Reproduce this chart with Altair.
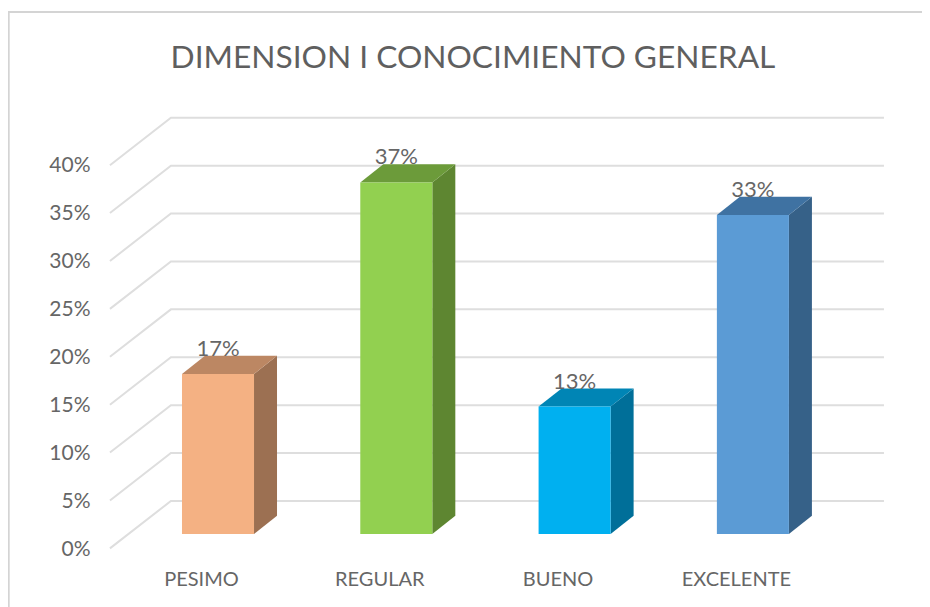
import altair as alt
import pandas as pd

categories = ["PESIMO", "REGULAR", "BUENO", "EXCELENTE"]
values = [16.7, 36.7, 13.3, 33.3]
labels = ["17%", "37%", "13%", "33%"]
front_colors = ["#F4B183", "#92D050", "#00B0F0", "#5B9BD5"]
side_colors = ["#9C7052", "#5E8631", "#006F99", "#366188"]
top_colors = ["#BC8763", "#6C9B3A", "#0085B5", "#3F72A2"]
ticks = [0, 5, 10, 15, 20, 25, 30, 35, 40]
title_text = "DIMENSION I CONOCIMIENTO GENERAL"

FONT = "Lato"
TXT = "#666666"
GRID = "#dedede"

# geometry of the oblique projection, in data units
BW = 0.404
DX = 0.129
DY = 1.9
WALL_DY = 3.45
FLOOR_DY = -1.5
X_LEFT, X_WALL, X_RIGHT = -0.606, -0.264, 3.735

PX_X = 178.3
PX_Y = 9.58
PAD_L, PAD_T, PAD_R, PAD_B = 84, 60, 0, 47
W, H = 830, 492
x_dom = [(8 + PAD_L - 218) / PX_X, (8 + PAD_L + W - 218) / PX_X]
y_dom = [(534 - (8 + PAD_T + H)) / PX_Y, (534 - (8 + PAD_T)) / PX_Y]
x_s = alt.Scale(domain=x_dom, nice=False, zero=False)
y_s = alt.Scale(domain=y_dom, nice=False, zero=False)

wall = pd.DataFrame(
    [{"t": t, "o": 0, "x": X_LEFT, "y": t + FLOOR_DY} for t in ticks]
    + [{"t": t, "o": 1, "x": X_WALL, "y": t + WALL_DY} for t in ticks]
    + [{"t": t, "o": 2, "x": X_RIGHT, "y": t + WALL_DY} for t in ticks]
)

front_rows, side_rows, top_rows = [], [], []
for i, (c, v) in enumerate(zip(categories, values)):
    l, r = i - BW / 2, i + BW / 2
    front_rows.append({"c": c, "x": l, "x2": r, "y": 0, "y2": v, "label": labels[i], "mid": i})
    side_rows += [
        {"c": c, "x": r, "y": 0, "y2": v},
        {"c": c, "x": r + DX, "y": DY, "y2": v + DY},
    ]
    top_rows += [
        {"c": c, "x": l, "y": v, "y2": v},
        {"c": c, "x": l + DX, "y": v, "y2": v + DY},
        {"c": c, "x": r, "y": v, "y2": v + DY},
        {"c": c, "x": r + DX, "y": v + DY, "y2": v + DY},
    ]
front = pd.DataFrame(front_rows)
side = pd.DataFrame(side_rows)
top = pd.DataFrame(top_rows)


def col(rng):
    return alt.Color("c:N", scale=alt.Scale(domain=categories, range=rng), legend=None)


x_axis = alt.Axis(
    values=[0, 1, 2, 3],
    labelExpr="['PESIMO','REGULAR','BUENO','EXCELENTE'][datum.value]",
    title=None, domain=False, ticks=False, grid=False,
    labelFont=FONT, labelFontSize=20, labelColor=TXT, labelOffset=-17,
    labelPadding=19, labelBaseline="middle", labelFlush=False, labelOverlap=False,
)
y_axis = alt.Axis(
    values=ticks, format="d", labelExpr="datum.value + '%'",
    title=None, domain=False, ticks=False, grid=False,
    labelFont=FONT, labelFontSize=21, labelColor=TXT, labelOffset=15,
    labelPadding=2, labelOverlap=False,
)

grid = alt.Chart(wall).mark_line(color=GRID, strokeWidth=2).encode(
    x=alt.X("x:Q", scale=x_s, axis=x_axis),
    y=alt.Y("y:Q", scale=y_s, axis=y_axis),
    detail="t:N",
    order="o:Q",
)
side_m = alt.Chart(side).mark_area(opacity=1).encode(
    x=alt.X("x:Q", scale=x_s), y=alt.Y("y:Q", scale=y_s, stack=None), y2="y2:Q",
    color=col(side_colors), detail="c:N",
)
top_m = alt.Chart(top).mark_area(opacity=1).encode(
    x=alt.X("x:Q", scale=x_s), y=alt.Y("y:Q", scale=y_s, stack=None), y2="y2:Q",
    color=col(top_colors), detail="c:N",
)
front_m = alt.Chart(front).mark_rect().encode(
    x=alt.X("x:Q", scale=x_s), x2="x2:Q",
    y=alt.Y("y:Q", scale=y_s), y2="y2:Q",
    color=col(front_colors),
)
text_m = alt.Chart(front).mark_text(
    font=FONT, fontSize=22, color=TXT, dy=-25, baseline="middle", align="center"
).encode(
    x=alt.X("mid:Q", scale=x_s), y=alt.Y("y2:Q", scale=y_s), text="label:N",
)

# chart frame (top and left edges)
frame = pd.DataFrame({
    "x": [x_dom[0] - 83.3 / PX_X, x_dom[0] - 83.3 / PX_X, x_dom[1]],
    "y": [y_dom[0] - 47 / PX_Y, y_dom[1] + 56 / PX_Y, y_dom[1] + 56 / PX_Y],
    "o": [0, 1, 2],
})
frame_m = alt.Chart(frame).mark_line(color="#d4d4d4", strokeWidth=2, clip=False).encode(
    x=alt.X("x:Q", scale=x_s), y=alt.Y("y:Q", scale=y_s), order="o:Q",
)

chart = alt.layer(frame_m, grid, side_m, top_m, front_m, text_m).resolve_scale(color="independent").properties(
    width=W, height=H,
    padding={"left": PAD_L, "top": PAD_T, "right": PAD_R, "bottom": PAD_B},
    autosize=alt.AutoSizeParams(type="none"),
    background="white",
    title=alt.TitleParams(
        title_text, anchor="middle", font=FONT, fontSize=31.7, fontWeight="normal",
        color="#5f5f5f", dx=-34, offset=0, dy=92, baseline="alphabetic",
    ),
).configure_view(stroke=None)

chart.save("out.html", embed_options={"renderer": "svg", "actions": False})
